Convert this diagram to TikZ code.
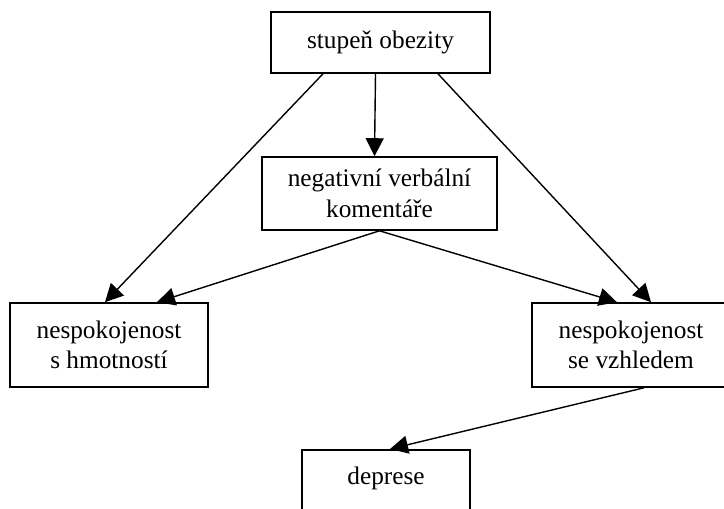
\documentclass[tikz,border=0pt]{standalone}
\usepackage{fontspec}
\setmainfont{Liberation Serif}
\usetikzlibrary{arrows.meta}

\begin{document}
\begin{tikzpicture}[x=1pt,y=-1pt,
    box/.style={draw,line width=1.6pt,align=center,inner sep=0pt,
        font=\fontsize{25.3}{30.5}\selectfont},
    arr/.style={line width=1.4pt,-{Triangle[length=18pt,width=18pt]}}]
    \useasboundingbox(0,0)rectangle(724,509);
    \clip(0,0)rectangle(724,509);
    \node[box,minimum width=219pt,minimum height=61pt](obez)at(380.5,42.5){stupeň obezity};
    \node[box,minimum width=235pt,minimum height=73pt](koment)at(379.5,193.5){negativní verbální\\komentáře};
    \node[box,minimum width=198pt,minimum height=84pt](hmot)at(109,345){nespokojenost\\s hmotností};
    \node[box,minimum width=198pt,minimum height=84pt](vzhl)at(631,345){nespokojenost\\se vzhledem};
    \node[box,minimum width=168pt,text height=25pt,text depth=45pt,inner ysep=10pt,anchor=north](depr)at(386,449){deprese};
    \draw[arr]([xshift=-5pt]obez.south)--([xshift=-5pt]koment.north);
    \draw[arr]([xshift=-57.5pt]obez.south)--([xshift=-4pt]hmot.north);
    \draw[arr]([xshift=57.5pt]obez.south)--([xshift=20pt]vzhl.north);
    \draw[arr](koment.south)--([xshift=48pt]hmot.north);
    \draw[arr](koment.south)--([xshift=-14pt]vzhl.north);
    \draw[arr]([xshift=13pt]vzhl.south)--([xshift=4pt]depr.north);
\end{tikzpicture}
\end{document}
